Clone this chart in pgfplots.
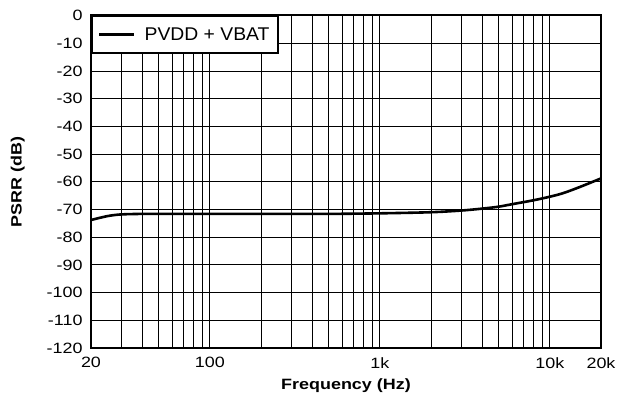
\documentclass[border=0pt]{standalone}
\usepackage{pgfplots}
\pgfplotsset{compat=1.18}
\usepackage{fontspec}
\setmainfont{Liberation Sans}
\newfontfamily\widefont{Liberation Sans}[FakeStretch=1.2]
\newfontfamily\legendfont{Liberation Sans}[FakeStretch=1.05]

\begin{document}
\begin{tikzpicture}[x=1bp,y=1bp]
\begin{axis}[
  at={(0,0)}, anchor=south west,
  scale only axis,
  width=510bp, height=332.5bp,
  xmode=log,
  xmin=20, xmax=20000,
  ymin=-120, ymax=0,
  xtick={20,100,1000,10000,20000},
  xticklabels={20,100,1k,10k,20k},
  minor xtick={30,40,50,60,70,80,90,200,300,400,500,600,700,800,900,2000,3000,4000,5000,6000,7000,8000,9000},
  ytick={-120,-110,...,0},
  yticklabels={-120,-110,-100,-90,-80,-70,-60,-50,-40,-30,-20,-10,0},
  grid=both,
  major grid style={black, line width=0.8bp},
  minor grid style={black, line width=0.8bp},
  major tick length=0pt, minor tick length=0pt,
  axis line style={black, line width=2bp},
  tick label style={font=\widefont\fontsize{15}{17}\selectfont},
  xticklabel style={yshift=-6bp},
  yticklabel style={xshift=-5bp},
  xlabel={\bfseries Frequency (Hz)},
  ylabel={\bfseries PSRR (dB)},
  label style={font=\widefont\fontsize{15}{17}\selectfont},
  xlabel style={yshift=-3bp},
  ylabel style={yshift=15bp},
  legend style={at={(0,1)}, anchor=north west, draw=black, line width=2bp,
    font=\legendfont\fontsize{18.5}{20}\selectfont, inner xsep=6bp, inner ysep=9bp,
    fill=white, cells={anchor=west}},
  legend cell align=left,
  legend image code/.code={\draw[line width=2.6bp] (0bp,0bp) -- (35bp,0bp);
    \path (42bp,0bp);},
]
\addplot[black, line width=2.6bp, smooth] coordinates {
  (20,-73.8) (25,-72.4) (30,-71.8) (40,-71.6) (50,-71.6) (70,-71.6)
  (100,-71.6) (200,-71.6) (500,-71.6) (1000,-71.4) (2000,-71.0)
  (3000,-70.4) (4000,-69.7) (5000,-69.0) (6000,-68.1) (8000,-66.7)
  (10000,-65.4) (12000,-64.1) (15000,-61.9) (20000,-58.8)
};
\addlegendentry{PVDD + VBAT}
\end{axis}
\path[use as bounding box] (-91bp,-46bp) rectangle (539bp,348bp);
\end{tikzpicture}
\end{document}
